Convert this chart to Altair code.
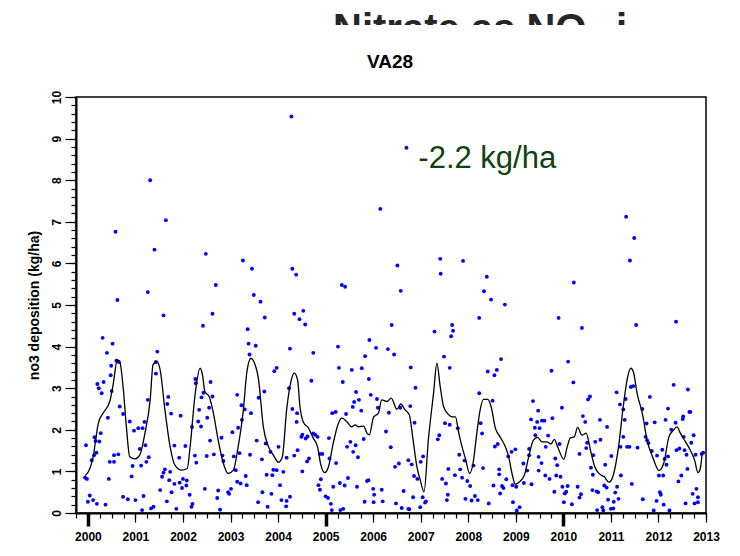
import altair as alt
import pandas as pd

FONT = "Liberation Sans"

# ---- scattered weekly samples (decimal year, kg/ha) ----
PX = [2004.28, 2006.70, 2001.31, 2001.64, 2000.58, 2006.15, 2001.40, 2002.48, 2003.26, 2003.45,
      2004.30, 2004.38, 2006.51, 2006.58, 2005.34, 2005.41, 2002.69, 2001.26, 2000.62, 2003.49,
      2003.63, 2011.32, 2011.49, 2011.40, 2007.41, 2007.89, 2007.42, 2008.39, 2008.33, 2008.48,
      2008.77, 2010.22,
      2001.59, 2002.62, 2002.42, 2004.34, 2004.53, 2004.45, 2004.57, 2003.72, 2003.36, 2000.31,
      2000.52, 2000.40, 2001.46, 2001.43, 2003.38, 2003.53, 2003.40, 2004.25, 2004.74, 2005.26,
      2005.92, 2006.06, 2005.83, 2006.31, 2006.44, 2006.39, 2000.60, 2000.65, 2000.49, 2001.43,
      2003.92, 2003.97, 2002.27, 2002.26, 2002.58, 2005.28, 2005.55, 2005.76, 2005.91, 2005.36,
      2004.70, 2000.20, 2000.23, 2000.29, 2000.33, 2000.48, 2000.50, 2000.67, 2000.74, 2000.42,
      2001.69, 2001.67, 2001.75, 2001.26, 2001.95, 2000.88, 2001.19, 2000.97, 2001.06, 2001.15,
      2002.43, 2002.62, 2002.39, 2002.55, 2002.34, 2002.32, 2002.38, 2002.19, 2002.51, 2002.57,
      2002.81, 2002.65, 2002.50, 2003.14, 2003.23, 2003.30, 2003.24, 2003.16, 2003.43, 2003.59,
      2003.71, 2003.55, 2003.74, 2003.41, 2003.04, 2003.07, 2003.19, 2002.83, 2002.85, 2003.66,
      2003.84, 2004.01, 2004.23, 2004.30, 2004.40, 2004.39, 2004.51, 2004.49, 2004.58, 2004.62,
      2004.74, 2004.78, 2004.83, 2004.65, 2004.61, 2004.51, 2004.34, 2004.41, 2004.18, 2004.11,
      2003.97, 2003.88, 2003.76, 2003.90, 2004.04, 2004.18, 2004.07, 2004.25, 2004.17, 2003.86,
      2003.67, 2003.78, 2003.58, 2003.34, 2003.21, 2003.32, 2003.14, 2003.11, 2002.95, 2003.01,
      2002.97, 2002.72, 2002.74, 2002.78, 2002.46, 2002.20, 2002.18, 2002.08, 2002.14, 2002.07,
      2001.98, 2001.93, 2002.00, 2002.05, 2001.92, 2001.82, 2001.82, 2001.76, 2001.86, 2001.66,
      2001.71, 2001.73, 2001.59, 2001.56, 2001.62, 2001.52, 2001.38, 2001.33, 2001.14, 2001.17,
      2001.00, 2000.84, 2000.74, 2000.37, 2000.19, 2000.11, 2000.04, 2000.00, 1999.98, 1999.94,
      1999.96, 2000.08, 2000.13, 2000.18, 2000.14, 2000.16, 2000.24, 2000.27, 2000.46, 2000.55,
      2000.55, 2000.64, 2000.44, 2000.94, 2001.12, 2000.92, 2001.09, 2001.21, 2001.23, 2001.28,
      2002.25, 2002.28, 2004.88, 2004.93, 2004.85, 2004.88, 2004.90, 2005.00, 2005.05, 2005.11,
      2005.13, 2005.31, 2005.37, 2005.08, 2005.22, 2005.07, 2005.16, 2005.30, 2005.40, 2005.47,
      2005.66, 2005.82, 2006.01, 2006.02, 2006.00, 2005.87, 2005.90, 2006.20, 2006.18, 2006.48,
      2006.60, 2006.64, 2006.74, 2006.46, 2006.54, 2006.74, 2006.37, 2006.27, 2006.33, 2006.10,
      2006.08, 2005.95, 2005.75, 2005.70, 2005.64, 2005.60, 2005.57, 2005.43, 2005.21, 2005.14,
      2005.52, 2005.45, 2005.63, 2005.58, 2005.68, 2005.80,
      2008.23, 2009.90, 2010.39, 2012.37, 2011.53, 2007.66, 2007.68, 2007.64, 2007.29, 2007.49,
      2007.61, 2006.79, 2006.89, 2006.78, 2006.57, 2006.87, 2006.81, 2006.86, 2006.93, 2006.76,
      2006.84, 2007.00, 2007.05, 2006.99, 2007.04, 2007.11, 2007.09, 2007.36, 2007.39, 2007.51,
      2007.61, 2007.78, 2007.81, 2007.92, 2007.83, 2007.87, 2007.72, 2007.58, 2007.45, 2007.53,
      2007.57, 2007.55, 2007.94, 2007.98, 2008.04, 2008.11, 2008.07, 2008.14, 2008.20, 2008.23,
      2008.26, 2008.29, 2008.31, 2008.41, 2008.55, 2008.60, 2008.69, 2008.51, 2008.56, 2008.62,
      2008.53, 2008.43, 2008.65, 2008.65, 2008.71, 2008.74, 2008.80, 2008.67, 2008.84, 2008.91,
      2008.99, 2008.93, 2009.01, 2008.94, 2009.02, 2009.08, 2009.16, 2009.24, 2009.17, 2009.28,
      2009.28, 2009.32, 2009.36, 2009.40, 2009.41, 2009.45, 2009.47, 2009.50, 2009.55, 2009.60,
      2009.48, 2009.54, 2009.48, 2009.33, 2009.63, 2009.68, 2009.62, 2009.71, 2009.77, 2009.75,
      2009.83, 2009.87, 2009.81, 2009.85, 2009.94, 2009.92, 2009.97, 2010.10, 2010.21, 2009.98,
      2010.03, 2010.01, 2010.06, 2010.09, 2010.18, 2010.30, 2010.34, 2010.37, 2010.34, 2010.41,
      2010.46, 2010.48, 2010.50, 2010.52, 2010.56, 2010.58, 2010.62, 2010.61, 2010.63, 2010.67,
      2010.70, 2010.73, 2010.71, 2010.77, 2010.78, 2010.82, 2010.84, 2010.86, 2010.88, 2010.92,
      2010.91, 2010.94, 2011.01, 2011.00, 2011.05, 2011.06, 2011.09, 2011.13, 2011.16, 2011.21,
      2011.12, 2011.19, 2011.20, 2011.26, 2011.26, 2011.29, 2011.31, 2011.34, 2011.39, 2011.42,
      2011.47, 2011.44, 2011.56, 2011.66, 2011.67, 2011.73, 2011.76, 2011.75, 2011.79, 2011.82,
      2011.86, 2011.92, 2011.90, 2011.96, 2011.97, 2012.01, 2012.08, 2012.10, 2012.03, 2012.05,
      2012.11, 2012.13, 2012.15, 2012.17, 2012.20, 2012.20, 2012.23, 2012.27, 2012.32, 2012.38,
      2012.36, 2012.42, 2012.44, 2012.48, 2012.51, 2012.52, 2012.53, 2012.55, 2012.57, 2012.59,
      2012.62, 2012.61, 2012.65, 2012.67, 2012.69, 2012.72, 2012.74, 2012.76, 2012.78, 2012.80,
      2012.83, 2012.83, 2012.91, 2012.94]

PY = [9.53, 8.78, 8.00, 7.04, 6.76, 7.31, 6.33, 6.23, 6.07, 5.87,
      5.87, 5.73, 5.95, 5.34, 5.48, 5.44, 5.48, 5.31, 5.12, 5.24,
      5.08, 7.12, 6.61, 6.07, 6.11, 6.06, 5.75, 5.68, 5.33, 5.13,
      5.01, 5.54,
      4.75, 4.79, 4.50, 4.79, 4.86, 4.66, 4.53, 4.70, 4.42, 4.21,
      4.07, 3.85, 3.88, 3.63, 4.07, 4.02, 3.81, 3.95, 3.85, 4.00,
      4.16, 3.97, 3.77, 3.94, 3.81, 4.52, 3.66, 3.63, 3.54, 3.35,
      3.41, 3.49, 3.12, 3.22, 3.15, 3.49, 3.44, 3.48, 3.22, 3.15,
      3.18, 3.10, 3.00, 2.88, 3.15, 3.31, 2.93, 2.56, 2.38, 2.29,
      2.79, 2.62, 2.39, 2.72, 2.34, 2.20, 2.19, 1.98, 2.04, 2.04,
      2.89, 2.80, 2.78, 2.53, 2.48, 2.20, 2.08, 2.07, 2.29, 1.74,
      1.81, 1.41, 1.37, 2.84, 2.59, 2.49, 2.24, 2.05, 2.40, 2.77,
      2.92, 1.74, 1.67, 1.40, 1.94, 1.36, 1.44, 1.38, 1.25, 1.29,
      1.47, 1.59, 3.00, 2.50, 2.40, 2.19, 1.88, 1.83, 1.79, 1.84,
      1.91, 1.88, 1.83, 1.31, 1.24, 1.00, 1.38, 1.51, 1.33, 0.99,
      1.03, 0.91, 0.92, 1.04, 0.67, 0.29, 0.31, 0.39, 0.16, 0.46,
      0.50, 0.15, 0.26, 0.67, 0.71, 0.89, 0.75, 1.03, 0.50, 0.58,
      0.46, 0.36, 0.54, 0.08, 0.58, 0.22, 0.15, 0.78, 0.44, 0.66,
      0.60, 0.73, 0.82, 1.61, 1.33, 1.62, 0.70, 0.50, 0.10, 0.28,
      0.79, 0.99, 0.97, 0.87, 1.05, 0.55, 0.15, 0.11, 0.07, 0.41,
      0.31, 0.33, 0.39, 0.20, 0.22, 0.31, 0.42, 0.27, 0.82, 0.85,
      1.63, 1.27, 1.39, 1.45, 1.82, 1.73, 1.72, 1.92, 1.23, 1.23,
      1.39, 1.41, 0.82, 1.13, 1.14, 0.88, 1.54, 1.63, 1.23, 1.34,
      1.38, 1.21, 1.42, 1.42, 0.67, 0.56, 0.81, 0.40, 0.36, 0.22,
      0.07, 0.07, 0.10, 1.31, 1.20, 1.80, 0.63, 0.72, 0.66, 0.84,
      0.63, 0.27, 0.26, 0.44, 0.58, 0.77, 0.79, 0.28, 0.56, 0.23,
      0.12, 0.53, 0.10, 1.11, 1.19, 1.27, 1.58, 1.96, 2.41, 2.53,
      2.74, 2.84, 2.46, 2.72, 2.91, 2.67, 2.55, 2.38, 2.43, 2.40,
      1.71, 1.59, 1.63, 1.47, 1.34, 1.78,
      4.69, 4.69, 4.45, 4.60, 4.52, 4.52, 4.38, 4.25, 4.36, 3.76,
      3.49, 3.50, 3.01, 2.57, 2.53, 2.17, 1.17, 0.89, 0.82, 0.09,
      0.38, 1.23, 1.36, 0.14, 0.38, 0.28, 0.25, 1.77, 1.87, 2.16,
      2.12, 2.04, 1.40, 1.26, 1.05, 0.85, 0.91, 1.06, 0.82, 0.71,
      0.44, 0.31, 0.34, 0.77, 0.65, 1.14, 0.30, 0.41, 0.31, 2.88,
      2.16, 1.91, 1.08, 3.40, 3.31, 3.44, 3.70, 2.70, 1.60, 1.66,
      0.66, 0.23, 0.93, 1.05, 0.65, 0.60, 0.81, 0.47, 1.36, 1.47,
      1.53, 0.67, 0.63, 0.26, 0.06, 0.14, 1.19, 1.02, 0.72, 1.54,
      1.39, 2.25, 2.69, 2.05, 1.87, 2.19, 2.46, 2.04, 2.22, 2.22,
      1.35, 1.20, 1.02, 0.69, 1.59, 1.86, 0.90, 0.82, 2.28, 3.42,
      1.31, 1.15, 0.51, 0.90, 0.87, 1.66, 2.53, 3.64, 3.14, 0.63,
      0.47, 0.26, 0.51, 0.65, 0.21, 0.63, 0.37, 0.45, 1.42, 2.33,
      2.19, 1.56, 1.69, 2.73, 2.80, 1.09, 0.92, 0.55, 1.39, 1.71,
      0.52, 0.50, 0.07, 2.24, 1.76, 0.14, 0.06, 0.66, 1.16, 2.07,
      0.61, 0.32, 1.37, 0.10, 0.11, 0.27, 0.49, 0.63, 0.34, 0.90,
      2.90, 2.61, 1.59, 1.83, 2.49, 2.24, 2.74, 1.59, 1.59, 3.03,
      3.05, 0.70, 1.57, 2.50, 0.33, 1.83, 1.75, 2.15, 1.68, 2.79,
      1.49, 2.18, 0.06, 0.29, 1.38, 0.90, 1.52, 0.90, 0.50, 0.44,
      0.20, 1.30, 2.24, 1.16, 1.36, 2.51, 0.06, 2.00, 3.08, 1.51,
      2.17, 0.76, 1.55, 0.90, 2.26, 2.32, 1.83, 1.51, 0.23, 1.40,
      2.97, 1.06, 2.43, 2.43, 1.69, 0.46, 1.87, 0.23, 1.40, 0.58,
      0.26, 0.38, 1.42, 1.45]

# ---- smoothed curve (decimal year, kg/ha) ----
LX = [1999.94, 2000.01, 2000.11, 2000.22, 2000.32, 2000.46, 2000.53, 2000.62, 2000.67, 2000.74,
      2000.81, 2000.88, 2000.99, 2001.09, 2001.20, 2001.31, 2001.37, 2001.45, 2001.52, 2001.62,
      2001.73, 2001.83, 2001.97, 2002.09, 2002.15, 2002.25, 2002.36, 2002.41, 2002.46, 2002.55,
      2002.64, 2002.74, 2002.85, 2002.95, 2003.06, 2003.16, 2003.27, 2003.34, 2003.43, 2003.49,
      2003.59, 2003.69, 2003.80, 2003.90, 2004.01, 2004.09, 2004.18, 2004.27, 2004.34, 2004.41,
      2004.46, 2004.53, 2004.64, 2004.74, 2004.83, 2004.90, 2004.98, 2005.06, 2005.16, 2005.27,
      2005.34, 2005.45, 2005.55, 2005.62, 2005.69, 2005.80, 2005.87, 2005.92, 2006.01, 2006.11,
      2006.18, 2006.29, 2006.38, 2006.50, 2006.58, 2006.67, 2006.76, 2006.84, 2006.92, 2006.99,
      2007.07, 2007.16, 2007.27, 2007.34, 2007.41, 2007.48, 2007.59, 2007.66, 2007.73, 2007.80,
      2007.87, 2007.94, 2008.03, 2008.10, 2008.18, 2008.25, 2008.32, 2008.41, 2008.48, 2008.57,
      2008.67, 2008.78, 2008.85, 2008.92, 2008.99, 2009.08, 2009.18, 2009.27, 2009.37, 2009.46,
      2009.55, 2009.66, 2009.74, 2009.81, 2009.88, 2010.01, 2010.08, 2010.15, 2010.23, 2010.30,
      2010.39, 2010.48, 2010.57, 2010.66, 2010.76, 2010.86, 2010.96, 2011.06, 2011.16, 2011.26,
      2011.34, 2011.42, 2011.48, 2011.55, 2011.66, 2011.76, 2011.89, 2012.01, 2012.11, 2012.22,
      2012.31, 2012.39, 2012.46, 2012.57, 2012.67, 2012.76, 2012.83, 2012.88, 2012.92]

LY = [0.90, 0.99, 1.35, 2.16, 2.40, 2.68, 3.08, 3.68, 3.64, 3.04,
      2.07, 1.35, 1.30, 1.39, 1.92, 2.72, 3.56, 3.64, 3.44, 2.48,
      1.59, 1.15, 1.03, 1.07, 1.59, 2.80, 3.48, 3.32, 2.92, 2.80,
      2.40, 1.75, 1.19, 0.95, 1.03, 1.59, 2.48, 3.36, 3.72, 3.64,
      3.20, 2.07, 1.59, 1.39, 1.22, 1.35, 2.48, 3.16, 3.36, 3.20,
      2.56, 2.19, 2.04, 1.80, 1.59, 1.15, 0.97, 1.11, 1.68, 2.16,
      2.28, 2.19, 2.07, 2.12, 2.07, 2.09, 1.92, 1.88, 2.31, 2.40,
      2.72, 2.68, 2.76, 2.49, 2.62, 2.48, 2.36, 1.75, 1.11, 0.79,
      0.51, 1.75, 2.88, 3.60, 3.04, 2.56, 2.36, 2.31, 2.31, 1.92,
      1.59, 1.31, 0.95, 1.19, 1.92, 2.48, 2.73, 2.73, 2.56, 2.04,
      1.83, 1.59, 1.35, 0.95, 0.69, 0.75, 0.91, 1.35, 1.75, 1.82,
      1.71, 1.71, 1.66, 1.77, 1.59, 1.29, 1.59, 1.81, 1.83, 2.06,
      1.87, 1.92, 1.51, 1.11, 0.94, 0.87, 0.74, 0.95, 1.59, 2.56,
      3.20, 3.48, 3.36, 2.88, 2.40, 1.75, 1.31, 1.02, 1.19, 1.83,
      1.98, 2.07, 1.92, 1.71, 1.51, 1.27, 0.97, 1.07, 1.44]

YEARS = list(range(2000, 2014))
BOLD_YEARS = [2000, 2005, 2010]
QUARTERS = [1999.75] + [y + q for y in range(2000, 2013) for q in (0, 0.25, 0.5, 0.75)] + [2013]
Y_MAJOR = list(range(0, 11))
Y_MINOR = [round(i * 0.2, 1) for i in range(0, 51)]

TITLE = "VA28"
TOP_TEXT = "Nitrate as NO\u2083 i"
TREND_TEXT = "-2.2 kg/ha"
TREND_POS_X = [2006.95]
TREND_POS_Y = [8.29]

pts_df = pd.DataFrame({"x": PX, "y": PY})
line_df = pd.DataFrame({"x": LX, "y": LY})

xs = alt.Scale(domain=[1999.75, 2013], nice=False, zero=False)
ys = alt.Scale(domain=[0, 10], nice=False, zero=False)

points = alt.Chart(pts_df).mark_circle(size=15, color="#0000ff", opacity=1).encode(
    x=alt.X("x:Q", scale=xs, axis=alt.Axis(
        values=YEARS, format="d", title=None, grid=False, orient="bottom",
        tickSize=9, tickWidth=1.2, tickColor="black",
        domainColor="black", domainWidth=2,
        labelFont=FONT, labelFontSize=12, labelFontWeight="bold", labelColor="black",
        labelPadding=9, labelFlush=False, labelOverlap=False)),
    y=alt.Y("y:Q", scale=ys, axis=alt.Axis(
        values=Y_MAJOR, format="d", grid=False, orient="left",
        tickSize=11, tickWidth=1.2, tickColor="black",
        domainColor="black", domainWidth=2,
        labelFont=FONT, labelFontSize=12, labelFontWeight="bold", labelColor="black",
        labelAngle=270, labelAlign="center", labelBaseline="bottom", labelPadding=2,
        labelFlush=False, labelOverlap=False,
        title="no3 deposition (kg/ha)", titleFont=FONT, titleFontSize=14,
        titleFontWeight="bold", titleColor="black", titleAngle=270,
        titleAlign="center", titleBaseline="middle", titleX=-42, titleY=208)),
)

curve = alt.Chart(line_df).mark_line(color="black", strokeWidth=1.3, interpolate="monotone").encode(
    x=alt.X("x:Q", scale=xs, axis=None),
    y=alt.Y("y:Q", scale=ys, axis=None),
)

minor_axes = alt.Chart(line_df).mark_line(opacity=0).encode(
    x=alt.X("x:Q", scale=xs, axis=alt.Axis(
        values=QUARTERS, labels=False, domain=False, grid=False, orient="bottom",
        tickSize=5, tickWidth=1.2, tickColor="black", title=None)),
    y=alt.Y("y:Q", scale=ys, axis=alt.Axis(
        values=Y_MINOR, labels=False, domain=False, grid=False, orient="left",
        tickSize=5, tickWidth=1.2, tickColor="black", title=None)),
)

bold_ticks = alt.Chart(line_df).mark_line(opacity=0).encode(
    x=alt.X("x:Q", scale=xs, axis=alt.Axis(
        values=BOLD_YEARS, labels=False, domain=False, grid=False, orient="bottom",
        tickSize=13, tickWidth=3.5, tickColor="black", title=None)),
    y=alt.Y("y:Q", scale=ys, axis=None),
)

trend = alt.Chart(pd.DataFrame({"x": TREND_POS_X, "y": TREND_POS_Y, "t": [TREND_TEXT]})).mark_text(
    font=FONT, fontSize=31, color="#0e420e", align="left", baseline="alphabetic"
).encode(
    x=alt.X("x:Q", scale=xs, axis=None),
    y=alt.Y("y:Q", scale=ys, axis=None),
    text="t:N",
)

title = alt.Chart(pd.DataFrame({"t": [TITLE]})).mark_text(
    font=FONT, fontSize=19, fontWeight="bold", color="black", align="center", baseline="alphabetic"
).encode(x=alt.value(314), y=alt.value(-29), text="t:N")

top_text = alt.Chart(pd.DataFrame({"t": [TOP_TEXT]})).mark_text(
    font=FONT, fontSize=40, fontWeight="bold", color="#262626", align="left", baseline="alphabetic"
).encode(x=alt.value(257), y=alt.value(-55), text="t:N")

cover = alt.Chart(pd.DataFrame({"t": [TOP_TEXT]})).mark_rect(color="white").encode(
    x=alt.value(200), x2=alt.value(600), y=alt.value(-72), y2=alt.value(-48)
)

chart = alt.layer(
    minor_axes, bold_ticks, points, curve, trend, top_text, cover, title
).resolve_axis(
    x="independent", y="independent"
).properties(
    width=630, height=416,
    autosize=alt.AutoSizeParams(type="none"),
    padding={"left": 76, "top": 97, "right": 34, "bottom": 43},
    background="white",
).configure_view(
    stroke="black", strokeWidth=1.5
)

chart.save("out.html", embed_options={"renderer": "svg", "actions": False})
